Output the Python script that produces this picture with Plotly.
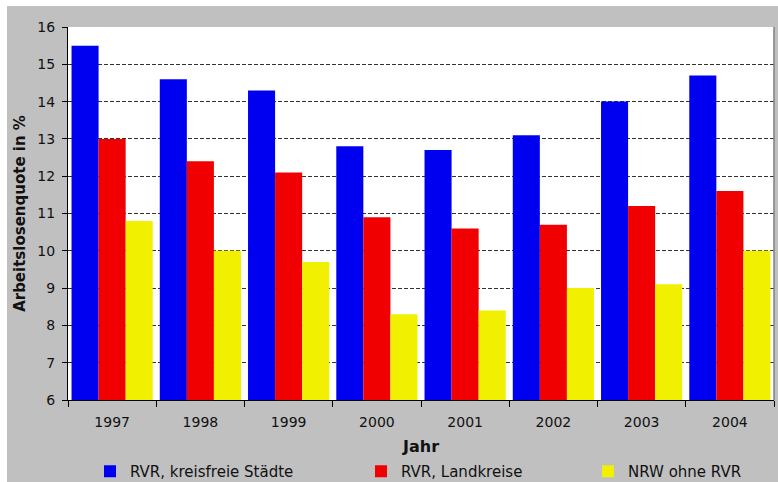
import plotly.graph_objects as go

years = ["1997", "1998", "1999", "2000", "2001", "2002", "2003", "2004"]
rvr_staedte = [15.5, 14.6, 14.3, 12.8, 12.7, 13.1, 14.0, 14.7]
rvr_landkreise = [13.0, 12.4, 12.1, 10.9, 10.6, 10.7, 11.2, 11.6]
nrw_ohne_rvr = [10.8, 10.0, 9.7, 8.3, 8.4, 9.0, 9.1, 10.0]

series_names = ["RVR, kreisfreie Städte", "RVR, Landkreise", "NRW ohne RVR"]
series_values = [rvr_staedte, rvr_landkreise, nrw_ohne_rvr]
series_colors = ["#0000F0", "#F00000", "#F0F000"]
legend_ids = ["legend", "legend2", "legend3"]

FONT = "DejaVu Sans"
OFFX, OFFY = 7, 6  # white page border (left, top)
W, H = 778 - OFFX, 482 - OFFY
ML, MR, MT, MB = 61, 4, 21, 82
pw = W - ML - MR
ph = H - MT - MB

def px_x(p):  # page pixel -> paper
    return (p - OFFX - ML) / pw

def px_y(p):
    return (H - MB - (p - OFFY)) / ph

fig = go.Figure()
for name, vals, col, lg in zip(series_names, series_values, series_colors, legend_ids):
    fig.add_trace(go.Bar(
        x=years, y=vals, name=name, legend=lg,
        marker=dict(color=col, line=dict(width=0)),
    ))

def legend_at(xpix):
    return dict(
        visible=True, orientation="h", yanchor="middle", xanchor="left",
        x=px_x(xpix), y=px_y(471.5),
        bgcolor="rgba(0,0,0,0)", font=dict(family=FONT, size=15, color="#111"),
    )

fig.update_layout(
    width=W, height=H,
    margin=dict(l=ML, r=MR, t=MT, b=MB, autoexpand=False),
    paper_bgcolor="#C0C0C0",
    plot_bgcolor="#FFFFFF",
    barmode="group",
    bargap=0.08,
    bargroupgap=0,
    showlegend=True,
    font=dict(family=FONT, size=14, color="#111"),
    legend=legend_at(90),
    legend2=legend_at(361),
    legend3=legend_at(588),
    xaxis=dict(
        type="category",
        showline=True, linecolor="#000", linewidth=1,
        ticks="outside", ticklen=6, tickcolor="#000", tickson="boundaries",
        ticklabelstandoff=9,
        showgrid=False,
        tickfont=dict(family=FONT, size=14, color="#111"),
        title=dict(text="<b>Jahr</b>", font=dict(family=FONT, size=16, color="#111"), standoff=12),
    ),
    yaxis=dict(
        range=[6, 16], dtick=1, tick0=6,
        showline=True, linecolor="#000", linewidth=1,
        ticks="outside", ticklen=5, tickcolor="#000",
        ticklabelstandoff=4,
        showgrid=True, gridcolor="#333", griddash="4px,2px", gridwidth=1,
        zeroline=False,
        tickfont=dict(family=FONT, size=14, color="#111"),
        title=dict(text="<b>Arbeitslosenquote in %</b>", font=dict(family=FONT, size=15, color="#111"), standoff=8),
    ),
    shapes=[
        dict(type="line", xref="paper", yref="paper", x0=1, x1=1, y0=0, y1=1,
             line=dict(color="#808080", width=1.5), layer="above"),
    ],
)

fig.write_html(
    "out.html",
    post_script="document.body.style.margin='%dpx 0 0 %dpx'; document.body.style.overflow='hidden';" % (OFFY, OFFX),
)
